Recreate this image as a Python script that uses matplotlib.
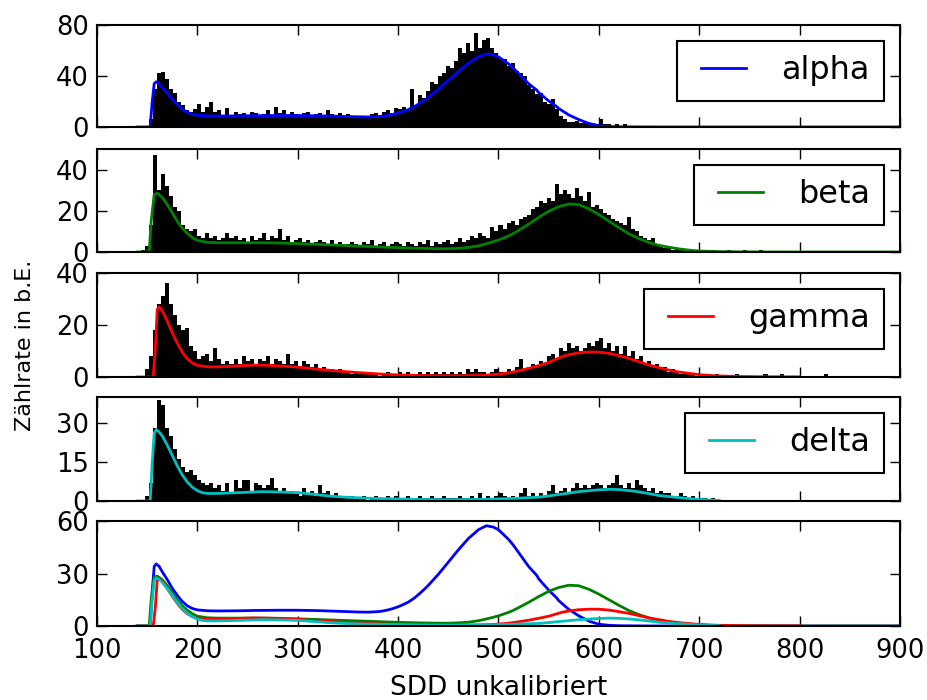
import numpy as np
import matplotlib
matplotlib.use('Agg')
import matplotlib.pyplot as plt

# ---------------- data ----------------
bin_start = 140
bin_width = 4

series_names = ['alpha', 'beta', 'gamma', 'delta']
series_colors = ['b', 'g', 'r', 'c']

alpha_counts = [
    0, 0, 1, 6, 30, 42, 43, 38, 30, 27,
    20, 17, 13, 12, 14, 18, 12, 16, 20, 12,
    13, 8, 15, 9, 12, 10, 11, 9, 12, 11,
    9, 10, 13, 9, 16, 11, 13, 9, 12, 10,
    9, 11, 12, 9, 10, 11, 9, 13, 10, 8,
    11, 9, 10, 8, 9, 7, 9, 8, 10, 11,
    9, 12, 13, 11, 15, 14, 16, 13, 30, 17,
    25, 23, 28, 35, 34, 40, 42, 48, 46, 52,
    62, 58, 66, 60, 74, 62, 68, 70, 62, 58,
    54, 53, 48, 50, 44, 42, 40, 33, 30, 26,
    27, 20, 18, 22, 14, 9, 6, 4, 4, 5,
    3, 4, 2, 3, 2, 6, 2, 2, 1, 2,
    1, 2, 1, 1, 1, 0, 1, 1, 0, 1,
    1, 0, 1, 0, 1, 1, 0, 1, 0, 1,
    0, 1, 0, 0, 1, 0, 0, 0, 0, 1,
    0, 0, 0, 1, 0, 1, 0, 0, 1, 0,
    0, 0, 0, 0, 0, 1, 0, 0, 1, 0,
    0, 0, 0, 0, 0, 0, 1, 0, 0, 1,
    0, 0, 0, 0, 0, 0, 1, 0, 0, 0,
]
beta_counts = [
    0, 1, 3, 13, 47, 30, 38, 32, 27, 22,
    20, 13, 11, 10, 11, 8, 7, 9, 7, 8,
    6, 7, 9, 7, 8, 6, 7, 5, 8, 6,
    7, 9, 6, 8, 7, 11, 6, 8, 5, 6,
    7, 5, 6, 4, 5, 6, 5, 4, 6, 4,
    5, 3, 4, 5, 4, 3, 5, 4, 6, 3,
    4, 5, 3, 4, 5, 4, 3, 5, 4, 3,
    5, 4, 6, 3, 5, 4, 5, 6, 4, 5,
    7, 5, 6, 8, 7, 9, 8, 7, 12, 10,
    13, 11, 14, 15, 13, 16, 17, 18, 21, 22,
    25, 24, 26, 25, 33, 28, 30, 28, 26, 31,
    27, 25, 29, 22, 23, 21, 19, 18, 16, 15,
    14, 13, 17, 11, 10, 8, 7, 6, 7, 4,
    3, 2, 2, 1, 2, 1, 1, 1, 1, 0,
    1, 0, 0, 1, 0, 0, 0, 1, 0, 0,
    0, 1, 0, 0, 0, 1, 0, 0, 0, 0,
    0, 0, 0, 0, 0, 0, 0, 0, 0, 0,
    0, 0, 0, 0, 0, 0, 0, 0, 0, 0,
    0, 0, 0, 0, 0, 0, 0, 0, 0, 0,
]
gamma_counts = [
    0, 0, 3, 8, 18, 28, 31, 36, 28, 24,
    20, 18, 19, 12, 10, 7, 8, 9, 6, 11,
    7, 5, 6, 5, 7, 5, 8, 6, 7, 5,
    7, 6, 8, 5, 7, 6, 5, 9, 5, 6,
    4, 6, 5, 4, 5, 3, 4, 3, 3, 2,
    3, 2, 2, 1, 2, 1, 1, 2, 1, 1,
    0, 1, 2, 1, 1, 2, 1, 2, 1, 1,
    2, 1, 2, 1, 2, 1, 2, 1, 2, 1,
    2, 1, 3, 2, 3, 2, 2, 1, 2, 3,
    2, 2, 3, 2, 4, 7, 3, 4, 5, 4,
    6, 5, 8, 9, 7, 11, 10, 13, 11, 12,
    10, 11, 13, 12, 14, 15, 11, 13, 10, 12,
    9, 12, 8, 10, 7, 8, 5, 6, 4, 5,
    3, 4, 2, 3, 2, 1, 2, 1, 1, 0,
    1, 0, 1, 0, 1, 0, 0, 0, 0, 1,
    0, 0, 0, 0, 0, 0, 1, 0, 0, 0,
    1, 0, 0, 0, 0, 0, 0, 0, 0, 0,
    0, 1, 0, 0, 0, 0, 0, 0, 0, 0,
    0, 0, 0, 0, 0, 0, 0, 0, 0, 0,
]
delta_counts = [
    0, 0, 2, 7, 28, 39, 37, 28, 25, 20,
    16, 13, 11, 12, 10, 8, 7, 6, 7, 5,
    6, 4, 7, 3, 8, 5, 8, 8, 4, 7,
    6, 5, 6, 9, 5, 4, 5, 3, 4, 3,
    2, 5, 3, 4, 2, 6, 3, 4, 2, 3,
    1, 2, 1, 2, 1, 1, 2, 0, 1, 2,
    1, 1, 2, 1, 2, 1, 1, 2, 1, 1,
    2, 1, 1, 2, 1, 1, 2, 1, 1, 1,
    2, 1, 1, 2, 1, 3, 1, 2, 1, 2,
    3, 2, 1, 2, 1, 3, 5, 2, 3, 2,
    3, 2, 4, 6, 3, 4, 5, 3, 5, 7,
    5, 6, 5, 6, 7, 6, 5, 6, 7, 10,
    6, 5, 7, 5, 8, 6, 5, 4, 5, 3,
    4, 3, 3, 2, 2, 3, 2, 1, 2, 1,
    1, 1, 0, 1, 0, 0, 0, 0, 0, 0,
    0, 0, 0, 0, 0, 0, 0, 0, 0, 0,
    0, 0, 0, 0, 0, 0, 0, 0, 0, 0,
    0, 0, 0, 0, 0, 0, 0, 0, 0, 0,
    0, 0, 0, 0, 0, 0, 0, 0, 0, 0,
]

# fitted curves
alpha_x = [140, 150, 153, 155, 157, 159, 162, 165, 170, 175, 180, 185, 190, 195,
           200, 210, 220, 240, 260, 280, 300, 320, 340, 360, 370, 380, 385, 390,
           395, 400, 405, 410, 415, 420, 425, 430, 440, 450, 460, 470, 480, 488,
           495, 500, 510, 515, 520, 530, 538, 540, 550, 558, 560, 570, 580, 590,
           600, 610, 620, 640, 660, 700, 800, 900]
alpha_y = [0, 0, 0, 20, 34, 35.5, 34, 31, 26.5, 21.5, 17.5, 14, 11.5, 10,
           9.2, 8.7, 8.6, 8.7, 8.9, 9.0, 9.0, 8.8, 8.4, 8.0, 7.9, 8.2, 8.6, 9.2,
           10.0, 11.0, 12.2, 13.6, 15.5, 17.8, 20.4, 23.2, 29.5, 36.5, 43.5, 50, 55, 57.3,
           56.5, 55, 49.5, 46, 42, 34, 29, 27, 20.5, 16, 14.5, 9.5, 5.8, 2.8,
           1.0, 0.4, 0.15, 0.05, 0, 0, 0, 0]

beta_x = [140, 150, 152, 154, 157, 160, 165, 170, 175, 180, 185, 190, 195, 200,
          210, 220, 240, 260, 280, 300, 320, 340, 360, 380, 400, 420, 440, 450,
          460, 470, 480, 490, 500, 510, 515, 520, 530, 540, 550, 560, 570, 580,
          590, 600, 610, 620, 630, 640, 650, 660, 670, 680, 690, 700, 720, 740,
          760, 800, 900]
beta_y = [0, 0, 0, 15, 28, 28.5, 26.5, 23, 19, 15, 11.5, 9, 7, 5.6,
          4.7, 4.5, 4.5, 4.5, 4.4, 4.1, 3.7, 3.3, 2.9, 2.5, 2.1, 1.8, 1.6, 1.6,
          1.8, 2.2, 3.0, 4.3, 5.8, 7.8, 9, 10.5, 13.5, 16.8, 19.8, 22, 23.3, 23,
          21, 18.2, 15, 11.8, 8.8, 6.5, 4.6, 3.2, 2.3, 1.5, 0.9, 0.5, 0.2, 0.08,
          0.03, 0, 0]

gamma_x = [140, 150, 156, 158, 160, 162, 165, 170, 175, 180, 185, 190, 195, 200,
           210, 220, 240, 255, 270, 285, 300, 320, 340, 360, 380, 400, 420, 440,
           460, 480, 490, 500, 510, 520, 530, 540, 550, 563, 570, 580, 590, 600,
           610, 620, 630, 640, 650, 663, 670, 680, 690, 700, 710, 720, 740, 760,
           800]
gamma_y = [0, 0, 0, 10, 26, 27, 25.5, 21.5, 17, 13, 9.5, 7, 5.4, 4.5,
           3.9, 3.9, 4.3, 4.6, 4.5, 4.2, 3.8, 3.0, 2.3, 1.7, 1.2, 0.8, 0.6, 0.5,
           0.5, 0.6, 0.8, 1.1, 1.6, 2.4, 3.3, 4.4, 5.6, 7.8, 8.6, 9.3, 9.6, 9.6,
           9.1, 8.2, 7.2, 5.9, 4.6, 3.3, 2.6, 1.9, 1.4, 0.9, 0.6, 0.4, 0.2, 0.1,
           0.05]

delta_x = [140, 150, 153, 155, 157, 159, 162, 165, 170, 175, 180, 185, 190, 195,
           200, 205, 210, 220, 240, 265, 280, 300, 320, 332, 350, 375, 400, 420,
           450, 480, 500, 520, 541, 560, 580, 600, 611, 620, 635, 648, 660, 680,
           700, 720]
delta_y = [0, 0, 0, 15, 26, 27.5, 26.5, 25, 21.5, 17.5, 13.5, 10, 7.3, 5.3,
           4.0, 3.2, 2.9, 2.9, 3.2, 3.6, 3.5, 3.2, 2.4, 1.9, 1.4, 1.0, 0.8, 0.6,
           0.5, 0.6, 0.8, 1.1, 1.5, 2.5, 3.6, 4.3, 4.5, 4.4, 3.8, 3.0, 2.1, 1.3,
           0.6, 0.2]

panel_ylims = [80, 50, 40, 40, 60]
panel_yticks = [[0, 40, 80], [0, 20, 40], [0, 20, 40], [0, 15, 30], [0, 30, 60]]
x_ticks = [100, 200, 300, 400, 500, 600, 700, 800, 900]
x_label = 'SDD unkalibriert'
y_label = 'Zählrate in b.E.'

# ---------------- style ----------------
plt.rcParams.update({
    'font.family': ['DejaVu Sans'],
    'xtick.direction': 'in', 'ytick.direction': 'in',
    'xtick.top': True, 'ytick.right': True,
    'xtick.major.size': 7, 'ytick.major.size': 7,
    'xtick.major.width': 1.0, 'ytick.major.width': 1.0,
    'xtick.major.pad': 8.5, 'ytick.major.pad': 6,
    'axes.linewidth': 1.5,
    'xtick.labelsize': 18.5, 'ytick.labelsize': 18.5,
    'legend.fontsize': 23, 'legend.numpoints': 2,
    'legend.fancybox': False, 'legend.framealpha': 1.0,
    'legend.edgecolor': 'k', 'legend.borderpad': 0.45,
    'legend.handlelength': 2.0, 'legend.handletextpad': 0.8,
    'legend.borderaxespad': 0.5,
})

fig = plt.figure(figsize=(9.28, 7), dpi=100)
W, H = 928.0, 700.0
left_px, right_px = 97, 900
panel_px = [(25, 127), (149, 252), (273, 377), (397, 501), (521, 626)]
axes = []
for top, bot in panel_px:
    ax = fig.add_axes([left_px / W, 1 - bot / H, (right_px - left_px) / W, (bot - top) / H])
    axes.append(ax)

counts_all = [alpha_counts, beta_counts, gamma_counts, delta_counts]
curves_all = [(alpha_x, alpha_y), (beta_x, beta_y), (gamma_x, gamma_y), (delta_x, delta_y)]

for i in range(4):
    ax = axes[i]
    counts = counts_all[i]
    lefts = bin_start + bin_width * np.arange(len(counts))
    ax.bar(lefts, counts, width=bin_width, align='edge', color='k', linewidth=0)
    cx, cy = curves_all[i]
    ax.plot(cx, cy, color=series_colors[i], lw=2, label=series_names[i])
    leg = ax.legend(loc='upper right')
    leg.get_frame().set_linewidth(1.5)

for i in range(4):
    cx, cy = curves_all[i]
    axes[4].plot(cx, cy, color=series_colors[i], lw=2)

for j, ax in enumerate(axes):
    ax.set_xlim(100, 900)
    ax.set_ylim(0, panel_ylims[j])
    ax.set_yticks(panel_yticks[j])
    ax.set_xticks(x_ticks)
    if j < 4:
        ax.set_xticklabels([])

axes[4].set_xlabel(x_label, fontsize=19, labelpad=8)
fig.text(25 / W, 1 - 345 / H, y_label, rotation=90, fontsize=16, ha='center', va='center')

fig.savefig('out.png', dpi=100, facecolor='white')
